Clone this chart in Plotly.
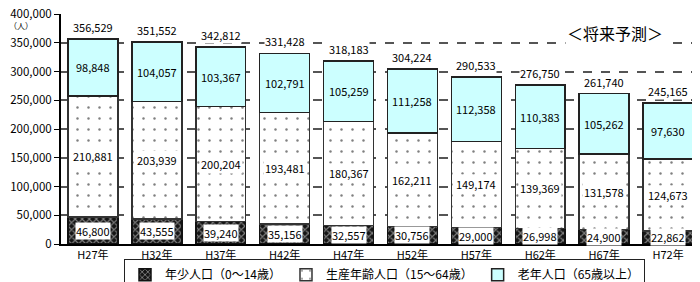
import plotly.graph_objects as go

categories = ["H27年", "H32年", "H37年", "H42年", "H47年", "H52年", "H57年", "H62年", "H67年", "H72年"]
young = [46800, 43555, 39240, 35156, 32557, 30756, 29000, 26998, 24900, 22862]
working = [210881, 203939, 200204, 193481, 180367, 162211, 149174, 139369, 131578, 124673]
elderly = [98848, 104057, 103367, 102791, 105259, 111258, 112358, 110383, 105262, 97630]
totals = [356529, 351552, 342812, 331428, 318183, 304224, 290533, 276750, 261740, 245165]
y_ticks = [0, 50000, 100000, 150000, 200000, 250000, 300000, 350000, 400000]

FONT = "Noto Sans CJK JP, Noto Sans, sans-serif"
BW = 0.78

fig = go.Figure()
fig.add_trace(go.Bar(
    x=categories, y=young, name="年少人口（0～14歳）", width=BW,
    marker=dict(color="#111", line=dict(color="#111", width=1.5),
                pattern=dict(shape="x", fgcolor="#e8e8e8", bgcolor="#151515", size=5, solidity=0.4)),
))
fig.add_trace(go.Bar(
    x=categories, y=working, name="生産年齢人口（15～64歳）", width=BW,
    marker=dict(color="white", line=dict(color="#333", width=1.5),
                pattern=dict(shape=".", fgcolor="#000", bgcolor="white", size=11, solidity=0.04)),
))
fig.add_trace(go.Bar(
    x=categories, y=elderly, name="老年人口（65歳以上）", width=BW,
    marker=dict(color="#ccffff", line=dict(color="#222", width=1.5)),
))

ann = []
for i, c in enumerate(categories):
    ann.append(dict(x=c, y=young[i] / 2, text=f"{young[i]:,}", showarrow=False,
                    bgcolor="white", borderpad=0, font=dict(size=11, color="black", family=FONT)))
    ann.append(dict(x=c, y=young[i] + working[i] / 2, text=f"{working[i]:,}", showarrow=False,
                    bgcolor="white", borderpad=1, font=dict(size=11, color="black", family=FONT)))
    ann.append(dict(x=c, y=young[i] + working[i] + elderly[i] / 2, text=f"{elderly[i]:,}", showarrow=False,
                    font=dict(size=11, color="black", family=FONT)))
    ann.append(dict(x=c, y=totals[i], text=f"{totals[i]:,}", showarrow=False, yanchor="bottom", yshift=3,
                    bgcolor="white", borderpad=0, font=dict(size=11, color="black", family=FONT)))

ann.append(dict(xref="paper", yref="paper", x=-0.063, y=0.948, text="（人）", showarrow=False,
                xanchor="center", yanchor="middle", font=dict(size=8, color="black", family=FONT)))
ann.append(dict(xref="paper", yref="paper", x=0.945, y=0.917, text="＜将来予測＞", showarrow=False,
                xanchor="right", yanchor="middle", bgcolor="white",
                font=dict(size=16, color="black", family=FONT)))

# page body has an 8px margin: figure is sized/offset to fill the 700x282 window
fig.update_layout(
    barmode="stack",
    width=692, height=274,
    margin=dict(l=53, r=0, t=6, b=38, autoexpand=False),
    paper_bgcolor="white", plot_bgcolor="white",
    font=dict(family=FONT, size=11, color="black"),
    showlegend=True,
    legend=dict(orientation="h", x=0.0986, y=-0.066, xanchor="left", yanchor="top",
                bordercolor="#222", borderwidth=1, bgcolor="white",
                font=dict(size=12, family=FONT), itemwidth=30,
                traceorder="normal"),
    annotations=ann,
)
fig.update_xaxes(range=[-0.5, 9.5], showline=True, linecolor="black", linewidth=2,
                 ticks="", tickfont=dict(size=11, family=FONT), showgrid=False)
fig.update_yaxes(range=[0, 400000], tickvals=y_ticks, tickformat=",d",
                 showline=True, linecolor="black", linewidth=2,
                 ticks="outside", ticklen=5, tickcolor="black",
                 showgrid=True, gridcolor="#555", gridwidth=1.5, griddash="dash",
                 zeroline=False, tickfont=dict(size=11.5, family=FONT),
                 ticklabeloverflow="allow")

fig.write_html("out.html")
